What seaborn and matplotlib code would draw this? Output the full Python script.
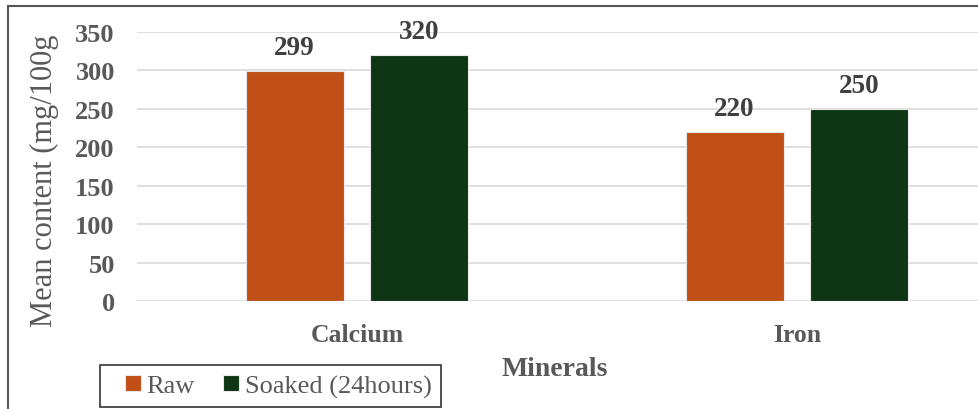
import matplotlib
matplotlib.use("Agg")
import matplotlib.pyplot as plt
import seaborn as sns
import pandas as pd
from matplotlib.patches import Rectangle
from matplotlib.legend_handler import HandlerPatch

minerals = ["Calcium", "Iron"]
treatments = ["Raw", "Soaked (24hours)"]
raw_values = [299, 220]
soaked_values = [320, 250]
y_ticks = [0, 50, 100, 150, 200, 250, 300, 350]

df = pd.DataFrame({
    "Minerals": minerals * 2,
    "Treatment": [treatments[0]] * 2 + [treatments[1]] * 2,
    "Value": raw_values + soaked_values,
})

sns.set_theme(style="white")
plt.rcParams["font.family"] = ["Liberation Serif", "DejaVu Serif"]

W, H = 979, 410
fig = plt.figure(figsize=(W / 100, H / 100), dpi=100)
ax = fig.add_axes([137 / W, 1 - 302 / H, 880 / W, 269 / H])

palette = {"Raw": "#C05016", "Soaked (24hours)": "#0E3514"}
sns.barplot(data=df, x="Minerals", y="Value", hue="Treatment",
            palette=palette, saturation=1, width=0.568, gap=0.216,
            edgecolor="#E8E8E8", linewidth=0.8, ax=ax, zorder=3)

ax.set_ylim(0, 350)
ax.set_yticks(y_ticks)
ax.yaxis.grid(True, color="#D9D9D9", linewidth=1.2, zorder=0)
ax.set_axisbelow(True)
for s in ax.spines.values():
    s.set_visible(False)
ax.tick_params(axis="both", length=0, colors="#595959")
ax.tick_params(axis="y", pad=16)
ax.tick_params(axis="x", pad=16)
for lab in ax.get_yticklabels():
    lab.set_fontweight("bold")
    lab.set_fontsize(19)
for lab in ax.get_xticklabels():
    lab.set_fontweight("bold")
    lab.set_fontsize(18.5)
ax.set_xlabel("")
ax.set_ylabel("")

for cont in ax.containers:
    ax.bar_label(cont, fmt="%d", padding=8, fontsize=19.5, fontweight="bold",
                 color="#404040")

fig.text(555 / W, 1 - 370 / H, "Minerals", ha="center", va="center",
         fontsize=20, fontweight="bold", color="#595959")
fig.text(44 / W, 1 - 181 / H, "Mean content (mg/100g", ha="center",
         va="center", rotation=90, fontsize=22, color="#595959")


def square_right(legend, orig_handle, xdescent, ydescent, width, height,
                 fontsize):
    # small square key sitting at the right end of the handle box
    side = 0.62 * fontsize
    return Rectangle((width - side - xdescent, -ydescent + (height - side) / 2),
                     side, side)


handles, labels = ax.get_legend_handles_labels()
ax.legend_.remove()
leg = fig.legend(handles, labels, loc="lower left",
                 bbox_to_anchor=(100 / W, 2 / H), ncol=2, frameon=True,
                 fancybox=False, edgecolor="black", fontsize=19,
                 handlelength=1.2, handleheight=0.7, handletextpad=0.2,
                 columnspacing=0.5, borderpad=0.35, borderaxespad=0,
                 handler_map={h: HandlerPatch(patch_func=square_right)
                              for h in handles})
leg.get_frame().set_linewidth(1.2)
for t in leg.get_texts():
    t.set_color("#595959")

fig.patches.append(Rectangle((8 / W, -0.1), 2.0, 1.1 - 7 / H,
                             transform=fig.transFigure, fill=False,
                             edgecolor="#555555", linewidth=1.5))

fig.savefig("out.png", dpi=100)
